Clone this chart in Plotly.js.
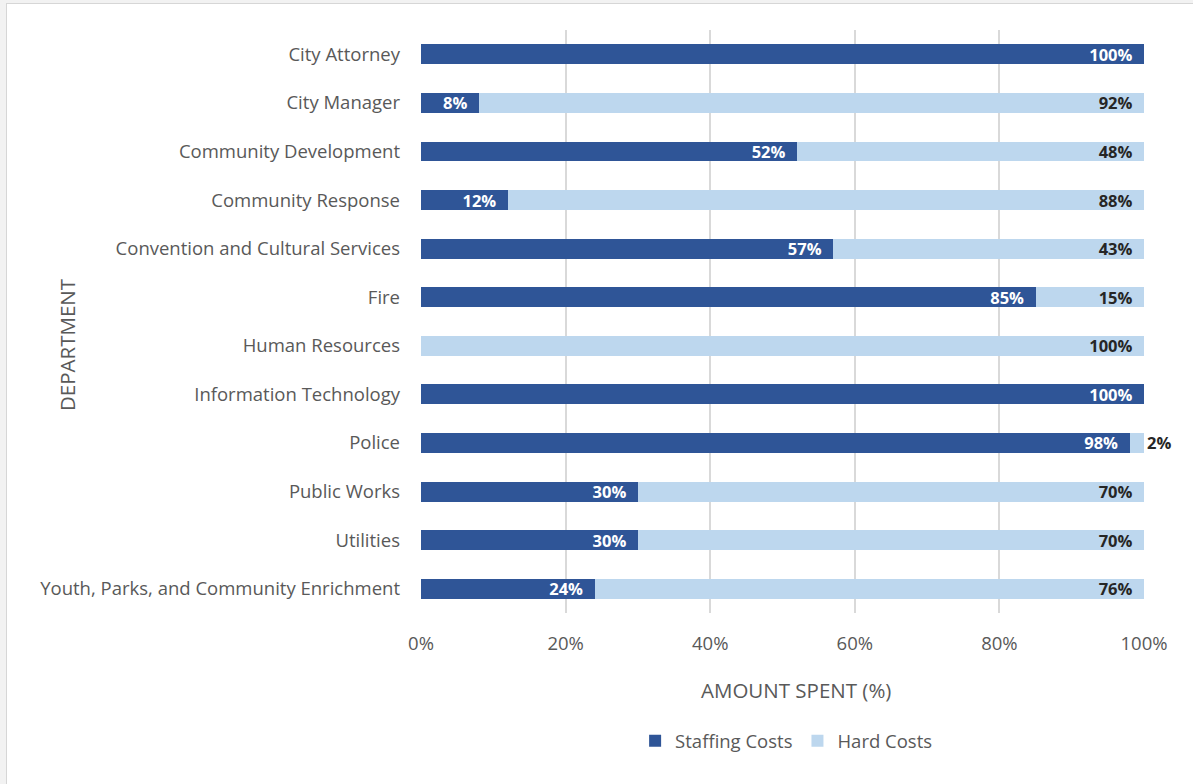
<!DOCTYPE html>
<html>
<head>
<meta charset="utf-8">
<script src="https://cdn.plot.ly/plotly-3.0.1.min.js"></script>
<style>
  html, body { margin: 0; padding: 0; background: #f2f2f2; }
  #wrap { position: relative; width: 1193px; height: 784px; overflow: hidden; background: #f2f2f2; }
  #chart { position: absolute; left: 0; top: 0; width: 1193px; height: 784px; }
  #frame { position: absolute; left: 6px; top: 3px; width: 1200px; height: 800px; border: 1.5px solid #d6d6d6; background: #ffffff; }
</style>
</head>
<body>
<div id="wrap">
  <div id="frame"></div>
  <div id="chart"></div>
</div>
<script>
const departments = [
  "City Attorney",
  "City Manager",
  "Community Development",
  "Community Response",
  "Convention and Cultural Services",
  "Fire",
  "Human Resources",
  "Information Technology",
  "Police",
  "Public Works",
  "Utilities",
  "Youth, Parks, and Community Enrichment"
];
const staffingCosts = [100, 8, 52, 12, 57, 85, 0, 100, 98, 30, 30, 24];
const hardCosts     = [0, 92, 48, 88, 43, 15, 100, 0, 2, 70, 70, 76];
const xTickVals = [0, 20, 40, 60, 80, 100];
const xTickText = ["0%", "20%", "40%", "60%", "80%", "100%"];

const PAD = "\u00a0\u00a0";
const labelOf = v => (v > 0 ? v + "%" + (v >= 5 ? PAD : "") : "");
const FONT = "'Open Sans', 'Noto Sans', 'DejaVu Sans', sans-serif";
const AXIS_SIZE = 18.5;
const TITLE_SIZE = 20.5;
const LABEL_SIZE = 16.5;

const traces = [
  {
    type: "bar", orientation: "h", name: "Staffing Costs",
    y: departments, x: staffingCosts,
    marker: { color: "#2F5597" },
    text: staffingCosts.map(labelOf),
    textposition: "inside", insidetextanchor: "end",
    insidetextfont: { color: "#ffffff", size: LABEL_SIZE, family: FONT, weight: "bold" },
    constraintext: "none", cliponaxis: false,
    hoverinfo: "x+y+name"
  },
  {
    type: "bar", orientation: "h", name: "Hard Costs",
    y: departments, x: hardCosts,
    marker: { color: "#BDD7EE" },
    text: hardCosts.map(labelOf),
    textposition: "auto", insidetextanchor: "end",
    insidetextfont: { color: "#262626", size: LABEL_SIZE, family: FONT, weight: "bold" },
    outsidetextfont: { color: "#262626", size: LABEL_SIZE, family: FONT, weight: "bold" },
    constraintext: "none", cliponaxis: false,
    hoverinfo: "x+y+name"
  }
];

const layout = {
  width: 1193, height: 784,
  paper_bgcolor: "rgba(0,0,0,0)", plot_bgcolor: "rgba(0,0,0,0)",
  barmode: "stack", bargap: 0.59,
  margin: { l: 421, r: 49, t: 30, b: 171 },
  font: { family: FONT, color: "#595959", size: AXIS_SIZE },
  showlegend: true,
  legend: {
    orientation: "h", x: 0.505, xanchor: "center", y: -0.22, yanchor: "middle",
    font: { size: AXIS_SIZE, color: "#595959", family: FONT },
    traceorder: "normal", itemwidth: 30
  },
  xaxis: {
    range: [0, 100], tickvals: xTickVals, ticktext: xTickText,
    showgrid: true, gridcolor: "#D9D9D9", gridwidth: 2,
    zeroline: false, showline: false, fixedrange: true,
    ticks: "", ticklabelstandoff: 17,
    tickfont: { size: AXIS_SIZE, color: "#595959" },
    automargin: false
  },
  yaxis: {
    type: "category", categoryorder: "array", categoryarray: departments,
    autorange: "reversed", showgrid: false, zeroline: false, showline: false,
    ticks: "", ticklabelstandoff: 20,
    tickfont: { size: AXIS_SIZE, color: "#595959" },
    automargin: false, fixedrange: true
  },
  annotations: [
    {
      text: "DEPARTMENT", xref: "paper", yref: "paper",
      x: (67 - 421) / 723, y: (613 - 345) / 583,
      xanchor: "center", yanchor: "middle", textangle: -90,
      showarrow: false, font: { size: TITLE_SIZE, color: "#595959", family: FONT }
    },
    {
      text: "AMOUNT SPENT (%)", xref: "paper", yref: "paper",
      x: (796 - 421) / 723, y: (613 - 690) / 583,
      xanchor: "center", yanchor: "middle",
      showarrow: false, font: { size: TITLE_SIZE, color: "#595959", family: FONT }
    }
  ]
};

Plotly.newPlot("chart", traces, layout, { displayModeBar: false, responsive: false });
</script>
</body>
</html>
